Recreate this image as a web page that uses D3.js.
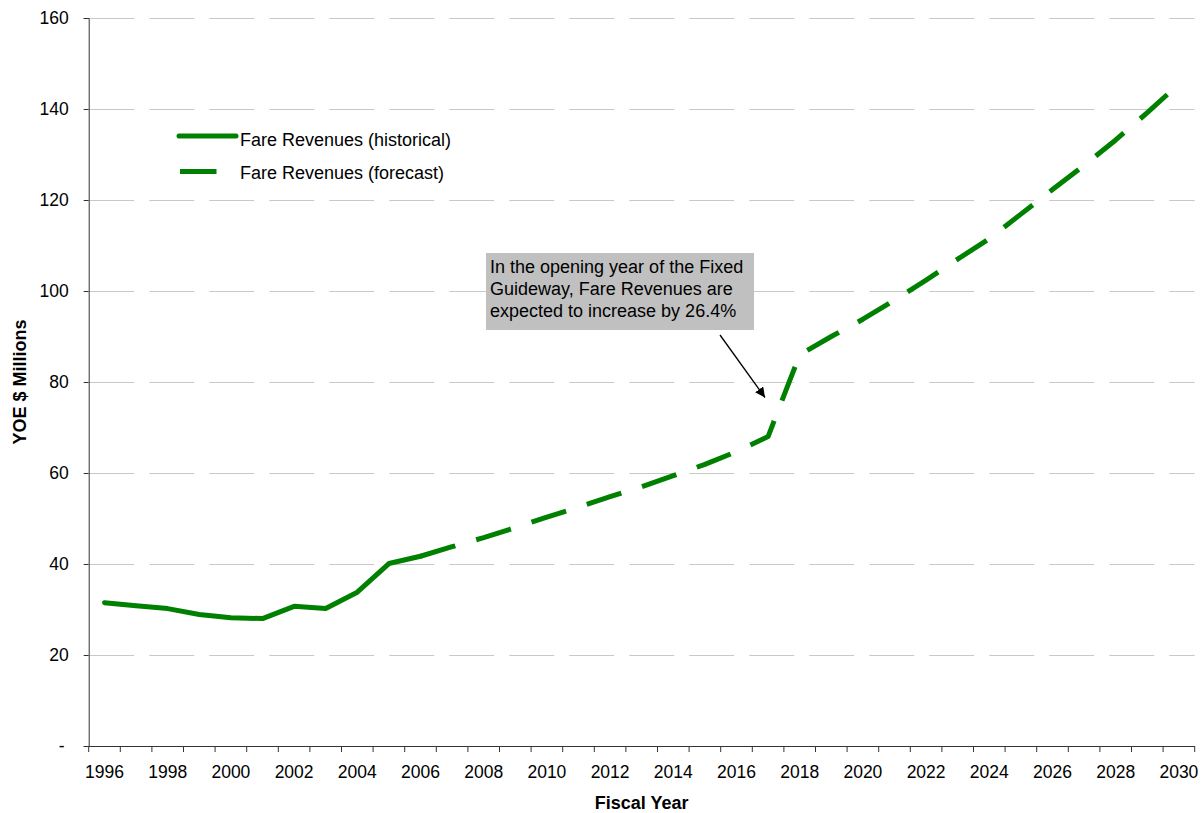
<!DOCTYPE html>
<html>
<head>
<meta charset="utf-8">
<script src="https://cdn.jsdelivr.net/npm/d3@7"></script>
<style>
  body { margin: 0; background: #fff; }
  text { font-family: Arial, "Liberation Sans", sans-serif; fill: #000; }
</style>
</head>
<body>
<svg id="chart" width="1202" height="813"></svg>
<script>
// ---- data ----
const years = d3.range(1996, 2031);
const histYears = [1996,1997,1998,1999,2000,2001,2002,2003,2004,2005,2006];
const histValues = [31.5,30.8,30.2,28.9,28.2,28.0,30.7,30.2,33.8,40.1,41.7];
const fcstYears = [2006,2007,2008,2009,2010,2011,2012,2013,2014,2015,2016,2017,2018,2019,2020,2021,2022,2023,2024,2025,2026,2027,2028,2029,2030];
const fcstValues = [41.7,43.8,45.8,48.0,50.3,52.5,54.8,57.0,59.4,61.9,64.7,68.0,86.0,90.0,93.8,98.0,102.4,107.0,111.5,116.9,122.3,127.6,133.2,139.2,145.5];
const yTicks = [0,20,40,60,80,100,120,140,160];
const xTickLabels = d3.range(1996, 2031, 2);
const legendLabels = ["Fare Revenues (historical)", "Fare Revenues (forecast)"];
const annotationLines = ["In the opening year of the Fixed", "Guideway, Fare Revenues are", "expected to increase by 26.4%"];

// ---- layout ----
const svg = d3.select("#chart");
const pLeft = 88.7, pRight = 1194.7, pTop = 18, pBottom = 746;
const green = "#008000";

const x = d3.scaleBand().domain(years).range([pLeft, pRight]).padding(0);
const y = d3.scaleLinear().domain([0, 160]).range([pBottom, pTop]);

// gridlines
svg.append("g").selectAll("line")
  .data(yTicks.filter(d => d > 0))
  .join("line")
  .attr("x1", pLeft + 0.6).attr("x2", pRight)
  .attr("y1", d => Math.round(y(d)) + 0.5).attr("y2", d => Math.round(y(d)) + 0.5)
  .attr("stroke", "#c8c8c8").attr("stroke-width", 1)
  .attr("stroke-dasharray", "45,15");

// y axis
const yAxis = d3.axisLeft(y).tickValues(yTicks).tickSize(5).tickPadding(15)
  .tickFormat(d => d === 0 ? "-" : d);
const gy = svg.append("g").attr("transform", `translate(${pLeft},0)`).call(yAxis);
gy.select(".domain").attr("stroke", "#333");
gy.selectAll(".tick line").attr("stroke", "#333");
gy.selectAll(".tick text").style("font-size", "17.5px").attr("fill", "#111");
gy.selectAll(".tick text").filter(d => d === 0).attr("x", -24);

// x axis: ticks at category boundaries
const gx = svg.append("g").attr("transform", `translate(0,${pBottom})`);
gx.append("line").attr("x1", pLeft).attr("x2", pRight).attr("y1", 0.5).attr("y2", 0.5)
  .attr("stroke", "#333");
const boundaries = years.map(d => x(d)).concat([x(years[years.length-1]) + x.bandwidth()]);
gx.selectAll("line.tk").data(boundaries).join("line").attr("class","tk")
  .attr("x1", d => d).attr("x2", d => d).attr("y1", 0).attr("y2", 6)
  .attr("stroke", "#333");
gx.selectAll("text").data(xTickLabels).join("text")
  .attr("x", d => x(d) + x.bandwidth()/2).attr("y", 32.3)
  .attr("text-anchor", "middle").style("font-size", "17.5px").attr("fill", "#111")
  .text(d => d);

// axis titles
svg.append("text").attr("x", (pLeft + pRight)/2).attr("y", 808.5)
  .attr("text-anchor", "middle").style("font-size", "18px").style("font-weight", "bold")
  .text("Fiscal Year");
svg.append("text").attr("transform", `translate(25.5,${(pTop+pBottom)/2}) rotate(-90)`)
  .attr("text-anchor", "middle").style("font-size", "18px").style("font-weight", "bold")
  .text("YOE $ Millions");

// lines
const line = d3.line().x(d => x(d[0]) + x.bandwidth()/2).y(d => y(d[1]));
const fPath = svg.append("path").datum(fcstYears.map((d,i) => [d, fcstValues[i]]))
  .attr("d", line).attr("fill", "none").attr("stroke", green)
  .attr("stroke-width", 5).attr("stroke-linejoin", "round");
// long-dash pattern, starting with a dash at 2006 and ending in a gap (as in the source)
{
  const L = fPath.node().getTotalLength();
  const P0 = 57.5, endPhase = 52;
  const n = Math.max(1, Math.round((L - endPhase) / P0));
  const P = (L - endPhase) / n;
  const dash = P * 36 / 57.5;
  fPath.attr("stroke-dasharray", `${dash},${P - dash}`);
}
svg.append("path").datum(histYears.map((d,i) => [d, histValues[i]]))
  .attr("d", line).attr("fill", "none").attr("stroke", green)
  .attr("stroke-width", 5).attr("stroke-linecap", "round").attr("stroke-linejoin", "round");

// legend
const lg = svg.append("g");
lg.append("line").attr("x1", 179).attr("x2", 236).attr("y1", 136).attr("y2", 136)
  .attr("stroke", green).attr("stroke-width", 5).attr("stroke-linecap", "round");
lg.append("text").attr("x", 240).attr("y", 146).style("font-size", "18px").attr("fill", "#111")
  .text(legendLabels[0]);
lg.append("line").attr("x1", 180).attr("x2", 216.5).attr("y1", 171.5).attr("y2", 171.5)
  .attr("stroke", green).attr("stroke-width", 5);
lg.append("text").attr("x", 240).attr("y", 179).style("font-size", "18px").attr("fill", "#111")
  .text(legendLabels[1]);

// annotation
svg.append("rect").attr("x", 486).attr("y", 253).attr("width", 268).attr("height", 77)
  .attr("fill", "#c0c0c0");
const at = svg.append("text").style("font-size", "18px").attr("fill", "#111");
annotationLines.forEach((t, i) => {
  at.append("tspan").attr("x", 490).attr("y", 272.5 + i*22.3).text(t);
});
const defs = svg.append("defs");
defs.append("marker").attr("id", "arrow").attr("viewBox", "0 0 10 10")
  .attr("refX", 10).attr("refY", 5).attr("markerWidth", 10).attr("markerHeight", 10)
  .attr("markerUnits", "userSpaceOnUse").attr("orient", "auto")
  .append("path").attr("d", "M0,0 L10,5 L0,10 Z").attr("fill", "#000");
svg.append("line").attr("x1", 720).attr("y1", 335).attr("x2", 765).attr("y2", 397.5)
  .attr("stroke", "#000").attr("stroke-width", 1.3).attr("marker-end", "url(#arrow)");
</script>
</body>
</html>
